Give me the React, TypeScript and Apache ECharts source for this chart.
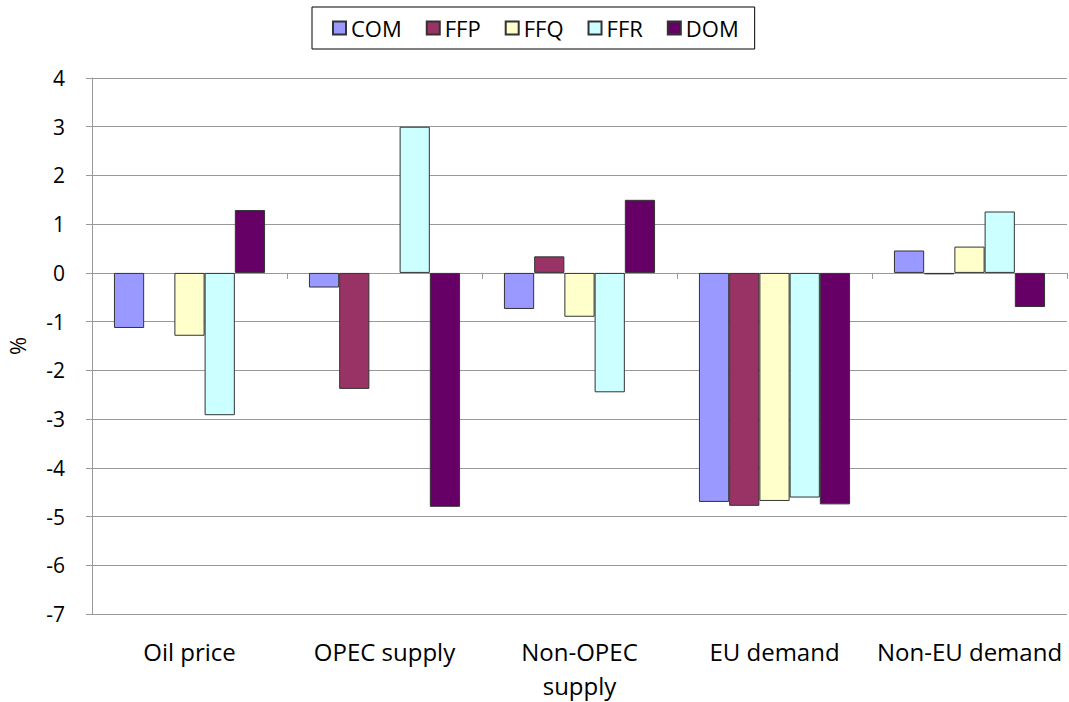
import React, { useEffect, useRef } from "react";
import * as echarts from "echarts";

const categories = ["Oil price", "OPEC supply", "Non-OPEC\nsupply", "EU demand", "Non-EU demand"];
const seriesNames = ["COM", "FFP", "FFQ", "FFR", "DOM"];
const COM = [-1.13, -0.3, -0.74, -4.7, 0.46];
const FFP = [null, -2.38, 0.34, -4.78, -0.03];
const FFQ = [-1.29, null, -0.9, -4.68, 0.54];
const FFR = [-2.92, 3.0, -2.45, -4.61, 1.26];
const DOM = [1.29, -4.8, 1.5, -4.75, -0.7];
const colors = ["#9999FF", "#993366", "#FFFFCC", "#CCFFFF", "#660066"];

export default function App() {
  const ref = useRef<HTMLDivElement>(null);
  useEffect(() => {
    if (!ref.current) return;
    const chart = echarts.init(ref.current, null, { renderer: "svg" });
    const values = [COM, FFP, FFQ, FFR, DOM];
    const font = "'Open Sans', sans-serif";
    chart.setOption({
      animation: false,
      textStyle: { fontFamily: font },
      legend: {
        left: 312,
        top: 7,
        itemWidth: 13,
        itemHeight: 13,
        itemGap: 24,
        padding: [10, 16, 10, 20],
        borderColor: "#000",
        borderWidth: 1,
        icon: "rect",
        data: seriesNames,
        textStyle: { fontSize: 22, color: "#000", fontFamily: font },
      },
      grid: { left: 92, right: 2, top: 78, bottom: 88, containLabel: false, outerBoundsMode: "none" },
      xAxis: [
        {
          type: "category",
          data: categories,
          position: "bottom",
          axisLine: { show: false, onZero: false },
          axisTick: { show: false },
          axisLabel: { fontSize: 24, color: "#000", margin: 20, lineHeight: 34, fontFamily: font, interval: 0 },
        },
        {
          type: "category",
          data: categories,
          position: "top",
          axisLine: { show: true, onZero: true, lineStyle: { color: "#999", width: 1 } },
          axisTick: { show: true, inside: true, length: 6, lineStyle: { color: "#999" } },
          axisLabel: { show: false },
        },
      ],
      yAxis: {
        type: "value",
        min: -7,
        max: 4,
        interval: 1,
        name: "%",
        nameLocation: "middle",
        nameGap: 64,
        nameRotate: 90,
        nameTextStyle: { fontSize: 22, color: "#000", fontFamily: font },
        axisLine: { show: true, lineStyle: { color: "#999" } },
        axisTick: { show: true, length: 6, lineStyle: { color: "#999" } },
        axisLabel: { fontSize: 21, color: "#000", margin: 27, fontFamily: font },
        splitLine: { show: true, lineStyle: { color: "#999", width: 1 } },
      },
      series: seriesNames.map((name, i) => ({
        name,
        type: "bar",
        xAxisIndex: 0,
        data: values[i],
        barGap: "0%",
        barCategoryGap: "22.5%",
        itemStyle: { color: colors[i], borderColor: "#333", borderWidth: 1 },
      })),
    });
    return () => chart.dispose();
  }, []);
  return <div ref={ref} style={{ width: 1069, height: 702, position: "absolute", left: 0, top: 0, background: "#fff" }} />;
}
